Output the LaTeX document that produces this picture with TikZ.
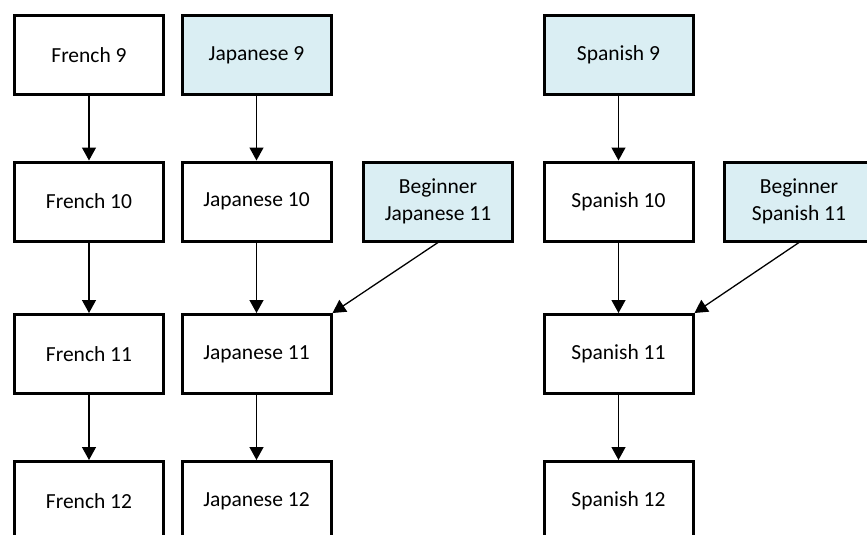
\documentclass[tikz,border=0pt]{standalone}
\usepackage{fontspec}
\setmainfont{Carlito}
\usetikzlibrary{arrows.meta, positioning}
\definecolor{startblue}{HTML}{DAEEF3}
\tikzset{course/.style={draw, line width=3pt, minimum width=149pt, minimum height=79pt,
    align=center, font=\fontsize{21.5}{26.5}\selectfont},
  entry/.style={course, fill=startblue},
  prereq/.style={-{Triangle[width=14pt,length=13pt]}, line width=1.3pt}}

\begin{document}
\begin{tikzpicture}[on grid]
    \useasboundingbox (0,0) rectangle (867pt,-535pt);
    % first year
    \node[course] (french9) at (89pt,-55pt) {French 9};
    \node[entry, right=167.5pt of french9] (japanese9) {Japanese 9};
    \node[entry, right=362pt of japanese9] (spanish9) {Spanish 9};
    % second year
    \node[course, below=146.5pt of french9] (french10) {French 10};
    \node[course, below=146.5pt of japanese9] (japanese10) {Japanese 10};
    \node[entry, right=181.5pt of japanese10] (begjapanese11) {Beginner\\Japanese 11};
    \node[course, below=146.5pt of spanish9] (spanish10) {Spanish 10};
    \node[entry, right=180.5pt of spanish10] (begspanish11) {Beginner\\Spanish 11};
    % third year
    \node[course, below=152.5pt of french10] (french11) {French 11};
    \node[course, below=152.5pt of japanese10] (japanese11) {Japanese 11};
    \node[course, below=152.5pt of spanish10] (spanish11) {Spanish 11};
    % fourth year
    \node[course, below=147pt of french11] (french12) {French 12};
    \node[course, below=147pt of japanese11] (japanese12) {Japanese 12};
    \node[course, below=147pt of spanish11] (spanish12) {Spanish 12};

    \draw[prereq] (french9) -- (french10);
    \draw[prereq] (french10) -- (french11);
    \draw[prereq] (french11) -- (french12);
    \draw[prereq] (japanese9) -- (japanese10);
    \draw[prereq] (japanese10) -- (japanese11);
    \draw[prereq] (japanese11) -- (japanese12);
    \draw[prereq] (begjapanese11.south) -- (japanese11.north east);
    \draw[prereq] (spanish9) -- (spanish10);
    \draw[prereq] (spanish10) -- (spanish11);
    \draw[prereq] (spanish11) -- (spanish12);
    \draw[prereq] (begspanish11.south) -- (spanish11.north east);
\end{tikzpicture}
\end{document}
